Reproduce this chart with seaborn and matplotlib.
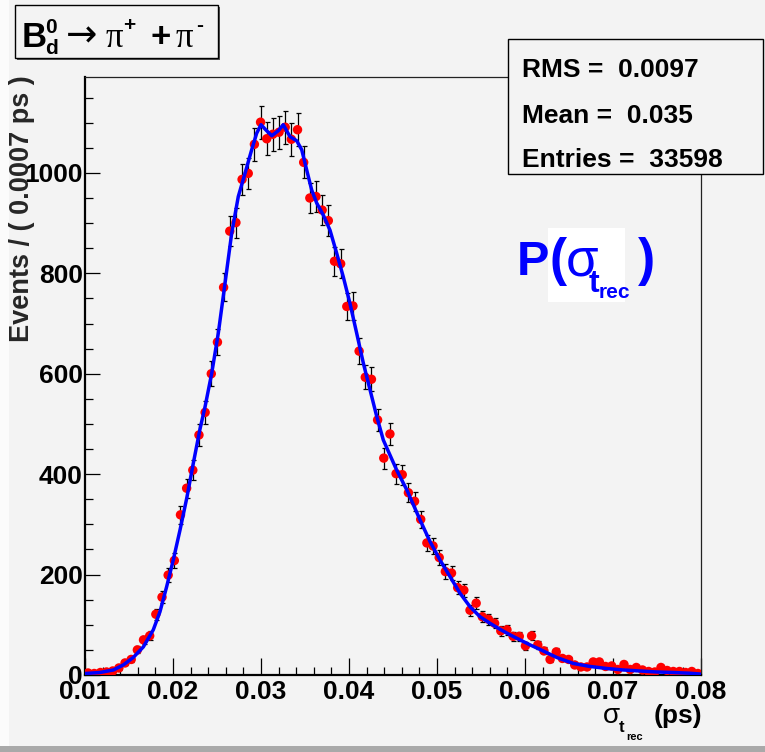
import numpy as np
import pandas as pd
import matplotlib
matplotlib.use("Agg")
import matplotlib.pyplot as plt
import seaborn as sns
from matplotlib.patches import Rectangle
from matplotlib.ticker import MultipleLocator

# ---------------- data ----------------
bin_lo = 0.01
bin_w = 0.0007
counts = [4, 3, 5, 6, 8, 14, 24, 31, 50, 70,
          78, 121, 155, 199, 228, 319, 372, 408, 478, 523,
          600, 663, 772, 884, 901, 987, 999, 1057, 1101, 1068,
          1077, 1081, 1091, 1067, 1086, 1021, 950, 953, 926, 905,
          824, 819, 734, 735, 645, 593, 589, 508, 432, 480,
          401, 399, 363, 346, 310, 263, 257, 234, 206, 203,
          174, 169, 129, 143, 116, 111, 103, 88, 90, 77,
          77, 58, 78, 60, 48, 31, 46, 33, 31, 20,
          16, 16, 26, 26, 17, 18, 11, 21, 11, 15,
          10, 7, 6, 15, 9, 7, 7, 5, 7, 3]

curve_x = [0.0100, 0.01170, 0.01322, 0.01435, 0.01549, 0.01663, 0.01776, 0.01852,
           0.01928, 0.02003, 0.02080, 0.02156, 0.02231, 0.02307, 0.02364, 0.02440,
           0.02515, 0.02591, 0.02667, 0.02742, 0.02818, 0.02894, 0.02951, 0.03000,
           0.03053, 0.03122, 0.03197, 0.03253, 0.03330, 0.03406, 0.03463, 0.03519,
           0.03576, 0.03633, 0.03708, 0.03784, 0.03860, 0.03935, 0.04011, 0.04087,
           0.04163, 0.04239, 0.04315, 0.04390, 0.04466, 0.04542, 0.04656, 0.04807,
           0.04920, 0.05034, 0.05148, 0.05261, 0.05375, 0.05489, 0.05602, 0.05716,
           0.05830, 0.05943, 0.06057, 0.06170, 0.06360, 0.06549, 0.06739, 0.06928,
           0.07117, 0.07307, 0.07497, 0.07685, 0.07875, 0.07989]
curve_y = [3, 5, 10, 20, 35, 56, 90, 126,
           176, 229, 289, 352, 422, 490, 534, 601,
           681, 780, 880, 953, 999, 1046, 1079, 1096,
           1086, 1074, 1084, 1096, 1072, 1064, 1046, 1006,
           966, 940, 916, 886, 840, 793, 740, 681,
           621, 568, 515, 468, 438, 408, 369, 309,
           266, 229, 196, 163, 136, 116, 103, 91,
           80, 70, 60, 51, 35, 23, 17, 13,
           10, 8, 6, 5, 3.5, 2]

x_ticks = [0.01, 0.02, 0.03, 0.04, 0.05, 0.06, 0.07, 0.08]
x_tick_labels = ["0.01", "0.02", "0.03", "0.04", "0.05", "0.06", "0.07", "0.08"]
y_ticks = [0, 200, 400, 600, 800, 1000]
y_tick_labels = ["0", "200", "400", "600", "800", "1000"]
stats_lines = ["RMS =  0.0097", "Mean =  0.035", "Entries =  33598"]
y_title = "Events / ( 0.0007 ps )"

# ---------------- style ----------------
W, H, DPI = 765, 752, 100
BG = "#f3f3f3"
FAM = ["Liberation Sans", "DejaVu Sans"]

sns.set_theme(style="ticks")
plt.rcParams["font.family"] = FAM
plt.rcParams["font.weight"] = "bold"

centers = [bin_lo + (i + 0.5) * bin_w for i in range(len(counts))]
df = pd.DataFrame({"x": centers, "n": counts})
df["err"] = np.sqrt(df["n"])
cdf = pd.DataFrame({"x": curve_x, "y": curve_y})

fig = plt.figure(figsize=(W / DPI, H / DPI), dpi=DPI, facecolor=BG)

def P(x, y):
    return (x / W, 1 - y / H)

def ptext(x, y, s, size, weight="bold", color="black", family=None,
          ha="left", va="baseline", **kw):
    fig.text(*P(x, y), s, fontsize=size, fontweight=weight, color=color,
             ha=ha, va=va, family=family or FAM, **kw)

# canvas bevel
fig.patches.append(Rectangle((0, 0), 9 / W, 1, transform=fig.transFigure,
                             facecolor="#fbfbfb", edgecolor="none", zorder=0))
fig.patches.append(Rectangle((0, 0), 1, 6 / H, transform=fig.transFigure,
                             facecolor="#a9a9a9", edgecolor="none", zorder=0))

ax = fig.add_axes([85 / W, 1 - 675 / H, 616 / W, 598 / H])
ax.set_facecolor(BG)

ax.errorbar(df["x"], df["n"], yerr=df["err"], fmt="none", ecolor="black",
            elinewidth=0.9, capsize=1.8, capthick=0.9, zorder=2)
sns.scatterplot(data=df, x="x", y="n", ax=ax, color="#ff0000", s=46,
                edgecolor="none", linewidth=0, zorder=3, legend=False)
sns.lineplot(data=cdf, x="x", y="y", ax=ax, color="#0000ff", linewidth=2.5,
             sort=False, estimator=None, zorder=4)

ax.set_xlim(0.01, 0.08)
ax.set_ylim(0, 1191)
ax.set_xticks(x_ticks, labels=x_tick_labels)
ax.set_yticks(y_ticks, labels=y_tick_labels)
ax.xaxis.set_minor_locator(MultipleLocator(0.002))
ax.yaxis.set_minor_locator(MultipleLocator(50))
ax.tick_params(axis="both", which="both", direction="in", top=False, right=False,
               colors="black", width=0.9, labelsize=19)
ax.tick_params(axis="x", which="major", length=12, pad=3.5)
ax.tick_params(axis="x", which="minor", length=6)
ax.tick_params(axis="y", which="major", length=11, pad=1.5)
ax.tick_params(axis="y", which="minor", length=6)
for lab in ax.get_xticklabels() + ax.get_yticklabels():
    lab.set_fontweight("bold")
ax.set_xlabel("")
ax.set_ylabel("")
for side in ["left", "bottom"]:
    ax.spines[side].set_linewidth(1.6)
    ax.spines[side].set_color("black")
for side in ["top", "right"]:
    ax.spines[side].set_linewidth(0.9)
    ax.spines[side].set_color("#222222")

# y-axis title
fig.text(*P(22, 75), y_title, rotation=90, ha="center", va="top",
         fontsize=19.5, fontweight="bold", family=FAM)

# x-axis title: sigma_{t_rec} (ps)
ptext(603, 723, "σ", 20, weight="normal")
ptext(619, 732, "t", 12)
ptext(626, 740, "rec", 8)
ptext(654, 723, "(ps)", 19)

# title box
fig.patches.append(Rectangle(P(17, 60), 203 / W, 53 / H, transform=fig.transFigure,
                             facecolor="#555555", edgecolor="none", zorder=5))
fig.patches.append(Rectangle(P(15, 58), 203 / W, 53 / H, transform=fig.transFigure,
                             facecolor=BG, edgecolor="black", linewidth=1.0, zorder=6))
ptext(22, 47, "B", 25, zorder=7)
ptext(45, 33, "0", 15, zorder=7)
ptext(45, 54, "d", 15, zorder=7)
ptext(66, 46, "→", 27, weight="normal", family=["DejaVu Sans"], zorder=7)
ptext(106, 47, "π", 25, weight="normal", family=["Liberation Serif", "DejaVu Serif"], zorder=7)
ptext(123, 31, "+", 15, zorder=7)
ptext(150, 47, "+", 25, zorder=7)
ptext(176, 47, "π", 25, weight="normal", family=["Liberation Serif", "DejaVu Serif"], zorder=7)
ptext(196, 31, "-", 15, zorder=7)

# stats box
fig.patches.append(Rectangle(P(508, 174), 255 / W, 135 / H, transform=fig.transFigure,
                             facecolor=BG, edgecolor="black", linewidth=1.0, zorder=6))
for line, yb in zip(stats_lines, [76.7, 123, 166.7]):
    ptext(522, yb, line, 19, zorder=7)

# P(sigma_t_rec) label
fig.patches.append(Rectangle(P(548, 302), 77 / W, 74 / H, transform=fig.transFigure,
                             facecolor="white", edgecolor="none", zorder=6))
ptext(517, 275, "P", 35, color="#0000ff", zorder=7)
ptext(549, 275, "(", 37, color="#0000ff", zorder=7)
ptext(566, 275, "σ", 38, weight="normal", color="#0000ff", zorder=7)
ptext(589, 292, "t", 23, color="#0000ff", zorder=7)
ptext(599, 298, "rec", 15, color="#0000ff", zorder=7)
ptext(638, 275, ")", 37, color="#0000ff", zorder=7)

fig.savefig("out.png", dpi=DPI, facecolor=BG)
